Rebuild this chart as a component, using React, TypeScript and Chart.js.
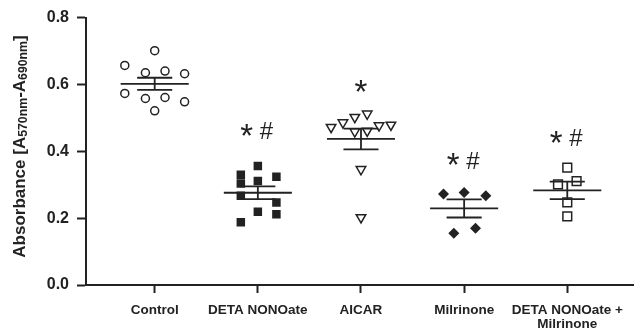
import React, { useEffect, useRef } from 'react';
import { Chart, registerables } from 'chart.js';

Chart.register(...registerables);

// ---- Data ----
const categories: (string | string[])[] = ['Control', 'DETA NONOate', 'AICAR', 'Milrinone', ['DETA NONOate +', 'Milrinone']];
const yTickValues = [0, 0.2, 0.4, 0.6, 0.8];

const controlValues = [0.701, 0.657, 0.635, 0.640, 0.632, 0.573, 0.558, 0.561, 0.548, 0.521];
const controlJitter = [0, -0.29, -0.09, 0.10, 0.29, -0.29, -0.09, 0.10, 0.29, 0];

const detaValues = [0.330, 0.304, 0.267, 0.188, 0.356, 0.311, 0.219, 0.324, 0.247, 0.212];
const detaJitter = [-0.165, -0.165, -0.165, -0.165, 0, 0, 0, 0.18, 0.18, 0.18];

const aicarValues = [0.472, 0.486, 0.502, 0.512, 0.459, 0.461, 0.477, 0.479, 0.346, 0.202];
const aicarJitter = [-0.29, -0.175, -0.06, 0.06, -0.06, 0.06, 0.175, 0.29, 0, 0];

const milrinoneValues = [0.272, 0.277, 0.267, 0.155, 0.170];
const milrinoneJitter = [-0.20, 0, 0.21, -0.10, 0.11];

const comboValues = [0.351, 0.301, 0.311, 0.247, 0.205];
const comboJitter = [0, -0.09, 0.09, 0, 0];

const groupMeans = [0.602, 0.276, 0.437, 0.229, 0.283];
const groupSems = [0.018, 0.019, 0.031, 0.027, 0.026];

const annotationLabels = ['', '* #', '*', '* #', '* #'];
const annotationLevels = [0, 0.461, 0.594, 0.373, 0.440];

const INK = '#222222';
const FONT = '"Liberation Sans", Arial, Helvetica, sans-serif';

function points(values: number[], jitter: number[], idx: number) {
  return values.map((v, i) => ({ x: idx + jitter[i], y: v }));
}

const overlayPlugin = {
  id: 'overlay',
  afterDatasetsDraw(chart: any) {
    const { ctx, scales } = chart;
    const xs = scales.x;
    const ys = scales.y;
    ctx.save();
    // mean & SEM
    ctx.strokeStyle = INK;
    ctx.lineWidth = 1.8;
    groupMeans.forEach((m, i) => {
      const s = groupSems[i];
      const yM = ys.getPixelForValue(m);
      const yH = ys.getPixelForValue(m + s);
      const yL = ys.getPixelForValue(m - s);
      const xc = xs.getPixelForValue(i);
      const mw1 = xs.getPixelForValue(i - 0.33);
      const mw2 = xs.getPixelForValue(i + 0.33);
      const sw1 = xs.getPixelForValue(i - 0.17);
      const sw2 = xs.getPixelForValue(i + 0.17);
      ctx.beginPath();
      ctx.moveTo(mw1, yM); ctx.lineTo(mw2, yM);
      ctx.moveTo(sw1, yH); ctx.lineTo(sw2, yH);
      ctx.moveTo(sw1, yL); ctx.lineTo(sw2, yL);
      ctx.moveTo(xc, yH); ctx.lineTo(xc, yL);
      ctx.stroke();
    });
    // annotations
    ctx.fillStyle = INK;
    const drawInk = (txt: string, font: string, cx: number, cy: number) => {
      ctx.font = font;
      ctx.textAlign = 'left';
      ctx.textBaseline = 'alphabetic';
      const m = ctx.measureText(txt);
      const w = m.actualBoundingBoxRight + m.actualBoundingBoxLeft;
      const x = cx - w / 2 + m.actualBoundingBoxLeft;
      const y = cy + (m.actualBoundingBoxAscent - m.actualBoundingBoxDescent) / 2;
      ctx.fillText(txt, x, y);
    };
    annotationLabels.forEach((lab, i) => {
      if (!lab) return;
      const cx = xs.getPixelForValue(i);
      const cy = ys.getPixelForValue(annotationLevels[i]);
      const parts = lab.split(' ');
      if (parts.length === 1) {
        drawInk(parts[0], `33px ${FONT}`, cx, cy);
      } else {
        drawInk(parts[0], `33px ${FONT}`, cx - 11, cy - 1);
        drawInk(parts[1], `24px ${FONT}`, cx + 9, cy);
      }
    });
    // y-axis title with subscripts
    const segs = [
      { t: 'Absorbance [A', sub: false },
      { t: '570nm', sub: true },
      { t: '-A', sub: false },
      { t: '690nm', sub: true },
      { t: ']', sub: false },
    ];
    const mainFont = `bold 17px ${FONT}`;
    const subFont = `bold 12.3px ${FONT}`;
    let total = 0;
    const widths = segs.map((s) => {
      ctx.font = s.sub ? subFont : mainFont;
      const w = ctx.measureText(s.t).width;
      total += w;
      return w;
    });
    ctx.translate(19.2, 146.5);
    ctx.rotate(-Math.PI / 2);
    ctx.textAlign = 'left';
    ctx.textBaseline = 'alphabetic';
    let x = -total / 2;
    segs.forEach((s, i) => {
      ctx.font = s.sub ? subFont : mainFont;
      ctx.fillText(s.t, x, s.sub ? 7.9 : 6.0);
      x += widths[i];
    });
    ctx.restore();
  },
};

export default function App() {
  const canvasRef = useRef<HTMLCanvasElement | null>(null);

  useEffect(() => {
    if (!canvasRef.current) return;
    const common = { borderColor: INK, showLine: false };
    const chart = new Chart(canvasRef.current, {
      type: 'scatter',
      data: {
        datasets: [
          { ...common, label: 'Control', data: points(controlValues, controlJitter, 0), pointStyle: 'circle', pointRadius: 4, pointBorderWidth: 1.5, backgroundColor: '#ffffff' },
          { ...common, label: 'DETA NONOate', data: points(detaValues, detaJitter, 1), pointStyle: 'rect', pointRadius: 6, pointBorderWidth: 0, backgroundColor: INK },
          { ...common, label: 'AICAR', data: points(aicarValues, aicarJitter, 2), pointStyle: 'triangle', pointRotation: 180, pointRadius: 5.5, pointBorderWidth: 1.5, backgroundColor: '#ffffff' },
          { ...common, label: 'Milrinone', data: points(milrinoneValues, milrinoneJitter, 3), pointStyle: 'rectRot', pointRadius: 5.5, pointBorderWidth: 0, backgroundColor: INK },
          { ...common, label: 'DETA NONOate + Milrinone', data: points(comboValues, comboJitter, 4), pointStyle: 'rect', pointRadius: 6.2, pointBorderWidth: 1.5, backgroundColor: '#ffffff' },
        ] as any,
      },
      options: {
        responsive: false,
        animation: false,
        layout: { padding: { top: 15, right: 0, left: 0, bottom: 0 } },
        plugins: { legend: { display: false }, tooltip: { enabled: false } },
        scales: {
          x: {
            type: 'linear',
            min: -0.666,
            max: 4.64,
            afterBuildTicks: (s: any) => {
              s.ticks = categories.map((_, i) => ({ value: i }));
            },
            afterFit: (s: any) => {
              s.height = 50;
              s.paddingLeft = 0;
              s.paddingRight = 0;
            },
            ticks: {
              autoSkip: false,
              maxRotation: 0,
              minRotation: 0,
              padding: 11,
              color: INK,
              font: { family: FONT, size: 13.5, weight: 'bold', lineHeight: 1.0 },
              callback: (v: any) => categories[Math.round(v)] ?? '',
            },
            grid: { drawOnChartArea: false, drawTicks: true, tickLength: 8, tickWidth: 2, tickColor: INK },
            border: { display: true, color: INK, width: 2 },
          },
          y: {
            type: 'linear',
            min: 0,
            max: 0.8,
            afterBuildTicks: (s: any) => {
              s.ticks = yTickValues.map((v) => ({ value: v }));
            },
            afterFit: (s: any) => {
              s.width = 86;
            },
            ticks: {
              padding: 8,
              color: INK,
              font: { family: FONT, size: 16, weight: 'bold' },
              callback: (v: any) => Number(v).toFixed(1),
            },
            grid: { drawOnChartArea: false, drawTicks: true, tickLength: 9, tickWidth: 2, tickColor: INK },
            border: { display: true, color: INK, width: 2 },
          },
        },
      } as any,
      plugins: [overlayPlugin],
    });
    return () => chart.destroy();
  }, []);

  return (
    <div style={{ position: 'absolute', left: 0, top: 0, width: 641, height: 335, background: '#fff' }}>
      <canvas ref={canvasRef} width={641} height={335} style={{ width: 641, height: 335, display: 'block' }} />
    </div>
  );
}
